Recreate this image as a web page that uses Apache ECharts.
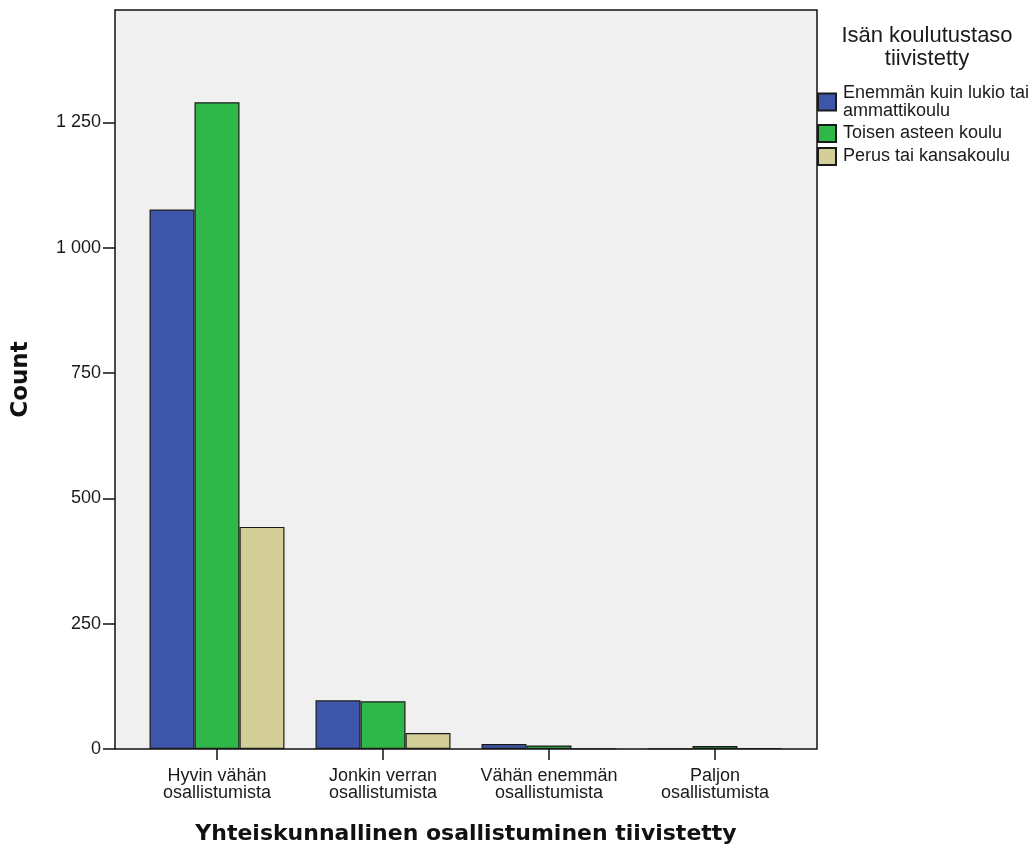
<!DOCTYPE html>
<html>
<head>
<meta charset="utf-8">
<script src="https://cdn.jsdelivr.net/npm/echarts@6/dist/echarts.min.js"></script>
<style>
html,body{margin:0;padding:0;background:#fff;}
#chart{width:1032px;height:846px;}
</style>
</head>
<body>
<div id="chart"></div>
<script>
// ---- data ----
var categories = ["Hyvin vähän\nosallistumista", "Jonkin verran\nosallistumista", "Vähän enemmän\nosallistumista", "Paljon\nosallistumista"];
var seriesNames = ["Enemmän kuin lukio tai ammattikoulu", "Toisen asteen koulu", "Perus tai kansakoulu"];
var enemmanKuinLukio = [1076, 97, 10, 1];
var toisenAsteenKoulu = [1290, 95, 7, 6];
var perusTaiKansakoulu = [443, 32, 1, 2];
var yTicks = [0, 250, 500, 750, 1000, 1250];
var yMax = 1474;
var legendTitle = "Isän koulutustaso\ntiivistetty";
var xTitle = "Yhteiskunnallinen osallistuminen tiivistetty";
var yTitle = "Count";

// ---- layout ----
var W = 1032, H = 846;
var plot = {left: 115, right: 817, top: 10, bottom: 749};
var pad = 19;
var colors = ["#3e56a9", "#2fb849", "#d4cf98"];
var FONT = "'Liberation Sans', Arial, sans-serif";
var BOLD = "'DejaVu Sans', 'Liberation Sans', sans-serif";

function fmt(v) { return String(v).replace(/\B(?=(\d{3})+(?!\d))/g, ' '); }

var chart = echarts.init(document.getElementById('chart'), null, {renderer: 'canvas'});
var dataSets = [enemmanKuinLukio, toisenAsteenKoulu, perusTaiKansakoulu];

var option = {
  backgroundColor: '#ffffff',
  animation: false,
  title: {
    text: legendTitle,
    left: 927,
    top: 24,
    padding: 0,
    textAlign: 'center',
    textStyle: {fontFamily: FONT, fontSize: 22, fontWeight: 'normal', color: '#1a1a1a', lineHeight: 23}
  },
  legend: {
    orient: 'vertical',
    left: plot.right,
    top: 84,
    padding: 0,
    itemWidth: 18,
    itemHeight: 17,
    itemGap: 4,
    icon: 'rect',
    data: seriesNames,
    formatter: function (name) {
      return name === seriesNames[0] ? "Enemmän kuin lukio tai\nammattikoulu" : name;
    },
    textStyle: {fontFamily: FONT, fontSize: 18, color: '#1a1a1a', lineHeight: 18, padding: [0, 0, 0, 2]}
  },
  grid: {
    left: plot.left + pad,
    right: W - plot.right + pad,
    top: plot.top,
    bottom: H - plot.bottom,
    containLabel: false,
    outerBoundsMode: 'none'
  },
  graphic: [{
    type: 'rect',
    z: 0,
    silent: true,
    shape: {x: plot.left, y: plot.top, width: plot.right - plot.left, height: plot.bottom - plot.top},
    style: {fill: '#f0f0f0', stroke: '#111', lineWidth: 1.5}
  }],
  xAxis: {
    type: 'category',
    data: categories,
    name: xTitle,
    nameLocation: 'middle',
    nameGap: 74,
    nameTextStyle: {fontFamily: BOLD, fontSize: 22, fontWeight: 'bold', color: '#111'},
    axisLine: {show: false},
    axisTick: {show: true, alignWithLabel: true, length: 11, lineStyle: {color: '#111', width: 1.5}},
    axisLabel: {fontFamily: FONT, fontSize: 18, color: '#1a1a1a', lineHeight: 17, margin: 19, interval: 0},
    splitLine: {show: false}
  },
  yAxis: {
    type: 'value',
    min: 0,
    max: yMax,
    interval: 250,
    offset: pad,
    name: yTitle,
    nameLocation: 'middle',
    nameGap: 82,
    nameRotate: 90,
    nameTextStyle: {fontFamily: BOLD, fontSize: 23, fontWeight: 'bold', color: '#111'},
    axisLine: {show: false},
    axisTick: {show: true, length: 12, customValues: yTicks, lineStyle: {color: '#111', width: 1.5}},
    axisLabel: {fontFamily: FONT, fontSize: 18, color: '#1a1a1a', margin: 14, customValues: yTicks, formatter: fmt},
    splitLine: {show: false}
  },
  series: dataSets.map(function (d, i) {
    return {
      name: seriesNames[i],
      type: 'bar',
      data: d,
      barGap: '0%',
      barCategoryGap: '18.7%',
      itemStyle: {color: colors[i], borderColor: '#1a1a1a', borderWidth: 1.2},
      emphasis: {disabled: true}
    };
  })
};
chart.setOption(option);
</script>
</body>
</html>
